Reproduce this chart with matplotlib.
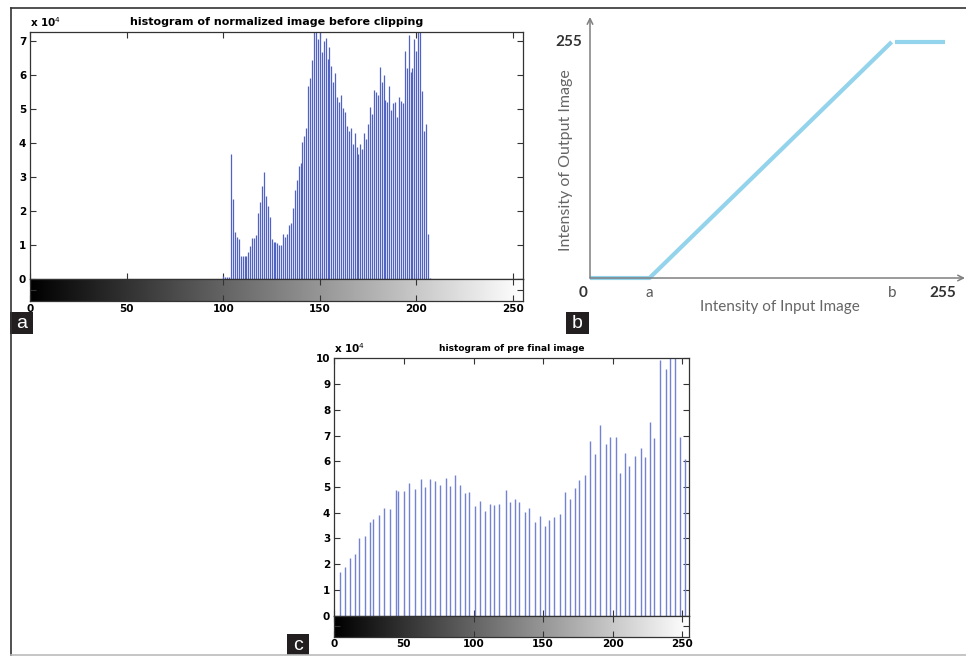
import numpy as np
import matplotlib
matplotlib.use('Agg')
import matplotlib.pyplot as plt
from matplotlib.lines import Line2D
from matplotlib.patches import Rectangle

# panel a: histogram of normalized image before clipping (counts in 1e4)
a_levels = list(range(100, 208))
a_counts = [0.10, 0.05, 0.05, 0.07,
            3.67, 2.35, 1.38, 1.24, 1.19, 0.67, 0.69, 0.69, 0.67, 0.80,
            0.96, 1.20, 1.22, 1.30, 1.94, 2.28, 2.75, 3.15, 2.43, 2.15,
            1.83, 1.19, 1.09, 1.09, 1.07, 1.01, 1.01, 1.32, 1.25, 1.33,
            1.58, 1.65, 2.09, 2.61, 2.92, 3.34, 3.41, 4.02, 4.22, 4.45,
            5.69, 5.91, 6.45, 7.60, 7.80, 7.07, 7.50, 6.67, 7.00, 7.09,
            6.48, 6.82, 6.28, 5.80, 6.06, 5.37, 5.20, 5.41, 5.03, 4.92,
            4.51, 4.36, 4.45, 3.97, 4.31, 3.89, 3.67, 3.98, 3.84, 4.30,
            4.12, 4.56, 5.06, 4.85, 5.55, 5.51, 5.43, 6.24, 5.80, 6.01,
            5.27, 5.21, 5.69, 4.98, 5.18, 5.20, 4.77, 5.35, 5.25, 5.18,
            6.70, 6.21, 7.19, 6.08, 6.21, 7.06, 6.72, 7.70, 7.90, 5.52,
            4.37, 4.56, 1.32, 0.03]

# panel c: histogram of pre final image (counts in 1e4)
c_levels = [4, 8, 11, 15, 18, 22, 26, 28, 32, 36, 40, 44, 46, 50, 54, 58,
            62, 65, 69, 72, 76, 80, 83, 87, 90, 94, 97, 101, 105, 108, 112,
            115, 118, 123, 126, 130, 133, 137, 140, 144, 148, 151, 154, 158,
            162, 166, 169, 173, 176, 180, 184, 187, 191, 195, 198, 202, 205,
            209, 212, 216, 220, 223, 227, 230, 234, 238, 241, 245, 248, 252]
c_counts = [1.68, 1.88, 2.24, 2.41, 3.02, 3.10, 3.64, 3.76, 3.90, 4.18,
            4.16, 4.87, 4.84, 4.86, 5.17, 4.91, 5.31, 5.00, 5.31, 5.23,
            5.08, 5.36, 5.04, 5.47, 5.06, 4.75, 4.79, 4.27, 4.46, 4.07,
            4.33, 4.29, 4.33, 4.90, 4.43, 4.52, 4.40, 4.04, 4.17, 3.64,
            3.89, 3.48, 3.72, 3.82, 3.96, 4.82, 4.53, 4.97, 5.28, 5.47,
            6.77, 6.28, 7.41, 6.67, 6.96, 6.93, 5.53, 6.33, 5.82, 6.20,
            6.50, 6.15, 7.51, 6.90, 9.94, 9.57, 10.8, 11.5, 6.94, 6.07]

# panel b: contrast stretching transfer function
b_in = [0, 43, 218]
b_out = [0, 0, 255]
b_flat_in = [220.5, 256.5]
b_flat_out = [255, 255]

W, H = 966, 656


def rect(x0, y0, x1, y1):
    return [x0 / W, 1 - y1 / H, (x1 - x0) / W, (y1 - y0) / H]


fig = plt.figure(figsize=(W / 100, H / 100), dpi=100)
tickfont = dict(family='DejaVu Sans', weight='bold', size=7.5)
gradient = np.linspace(0, 1, 256).reshape(1, -1)


def hist_panel(box, cbox, levels, counts, ymax, nticks, title, title_size,
               color, lw):
    ax = fig.add_axes(rect(*box))
    ax.vlines(levels, 0, np.array(counts) * 1e4, color=color, lw=lw)
    ax.set_xlim(0, 255)
    ax.set_ylim(0, ymax * 1e4)
    ax.set_xticks(range(0, 251, 50))
    ax.set_xticklabels([])
    ax.set_yticks([i * 1e4 for i in range(nticks + 1)])
    ax.set_yticklabels([str(i) for i in range(nticks + 1)], fontdict=tickfont)
    ax.tick_params(direction='in', length=4, width=0.8, top=True, right=True,
                   pad=3, color='#333333')
    for s in ax.spines.values():
        s.set_color('#333333')
        s.set_linewidth(0.9)
    ax.text(0, 1.012, r'x 10$^{4}$', transform=ax.transAxes, ha='left',
            va='bottom', family='DejaVu Sans', weight='bold', size=7.5)
    ax.set_title(title, family='DejaVu Sans', weight='bold', size=title_size,
                 pad=5)

    cb = fig.add_axes(rect(*cbox))
    cb.imshow(gradient, cmap='gray', extent=[0, 255, 0, 1], aspect='auto')
    cb.set_xlim(0, 255)
    cb.set_ylim(0, 1)
    cb.set_xticks(range(0, 251, 50))
    cb.set_xticklabels([str(v) for v in range(0, 251, 50)], fontdict=tickfont)
    cb.set_yticks([0.5])
    cb.set_yticklabels([])
    cb.tick_params(direction='in', length=4, width=0.8, top=True, right=True,
                   left=True, pad=2, color='#333333')
    for s in cb.spines.values():
        s.set_color('#333333')
        s.set_linewidth(0.9)
    return ax


hist_panel((30.3, 32, 522.5, 279), (30.3, 279, 522.5, 301), a_levels, a_counts,
           7.27, 7, 'histogram of normalized image before clipping', 8,
           '#5062c4', 0.9)
hist_panel((334.3, 358.3, 689.3, 615.7), (334.3, 615.7, 689.3, 636.7),
           c_levels, c_counts, 10, 10, 'histogram of pre final image', 6.5,
           '#7482d2', 1.0)

# panel b
axb = fig.add_axes(rect(590, 17, 965, 278))
axb.set_xlim(0, 271)
axb.set_ylim(0, 282)
axb.axis('off')
axis_col = '#7f7f7f'
axb.annotate('', xy=(0, 282), xytext=(0, 0), annotation_clip=False,
             arrowprops=dict(arrowstyle='->', color=axis_col, lw=1.1,
                             shrinkA=0, shrinkB=0))
axb.annotate('', xy=(271, 0), xytext=(0, 0), annotation_clip=False,
             arrowprops=dict(arrowstyle='->', color=axis_col, lw=1.1,
                             shrinkA=0, shrinkB=0))
line_col = '#93d3ec'
axb.plot(b_in, b_out, color=line_col, lw=3, solid_capstyle='butt',
         clip_on=False)
axb.plot(b_flat_in, b_flat_out, color=line_col, lw=3, solid_capstyle='butt',
         clip_on=False)
lab = dict(family='Lato', size=11)
axb.text(-5, -16, '0', ha='center', va='center', color='#333333',
         weight='bold', **lab)
axb.text(b_in[1], -16, 'a', ha='center', va='center', color='#595959', **lab)
axb.text(b_in[2], -16, 'b', ha='center', va='center', color='#595959', **lab)
axb.text(255, -16, '255', ha='center', va='center', color='#333333',
         weight='bold', **lab)
axb.text(-15, 255, '255', ha='center', va='center', color='#333333',
         weight='bold', **lab)
axb.text(137, -31, 'Intensity of Input Image', ha='center', va='center',
         color='#666666', **lab)
axb.text(-17.5, 127, 'Intensity of Output Image', ha='center', va='center',
         rotation=90, color='#666666', size=11.5, family='Lato')

# frame lines
fig.add_artist(Line2D([10.5 / W, 1], [1 - 8 / H] * 2, color='#333333', lw=1.2))
fig.add_artist(Line2D([10.5 / W] * 2, [1 - 8 / H, 0], color='#333333', lw=1.2))
fig.add_artist(Line2D([10.5 / W, 1], [1 - 655 / H] * 2, color='#bbbbbb',
                      lw=1.2))

# panel letters
for letter, (x0, y0, x1, y1) in {'a': (10, 312, 33, 334),
                                 'b': (566, 312, 589, 334),
                                 'c': (287, 634, 309, 655)}.items():
    r = rect(x0, y0, x1, y1)
    fig.add_artist(Rectangle((r[0], r[1]), r[2], r[3], transform=fig.transFigure,
                             facecolor='#231f20', edgecolor='none'))
    fig.text(r[0] + r[2] / 2, r[1] + r[3] / 2 - 0.001, letter, color='white',
             ha='center', va='center', family='Liberation Sans', size=14)

fig.savefig('out.png', dpi=100)
